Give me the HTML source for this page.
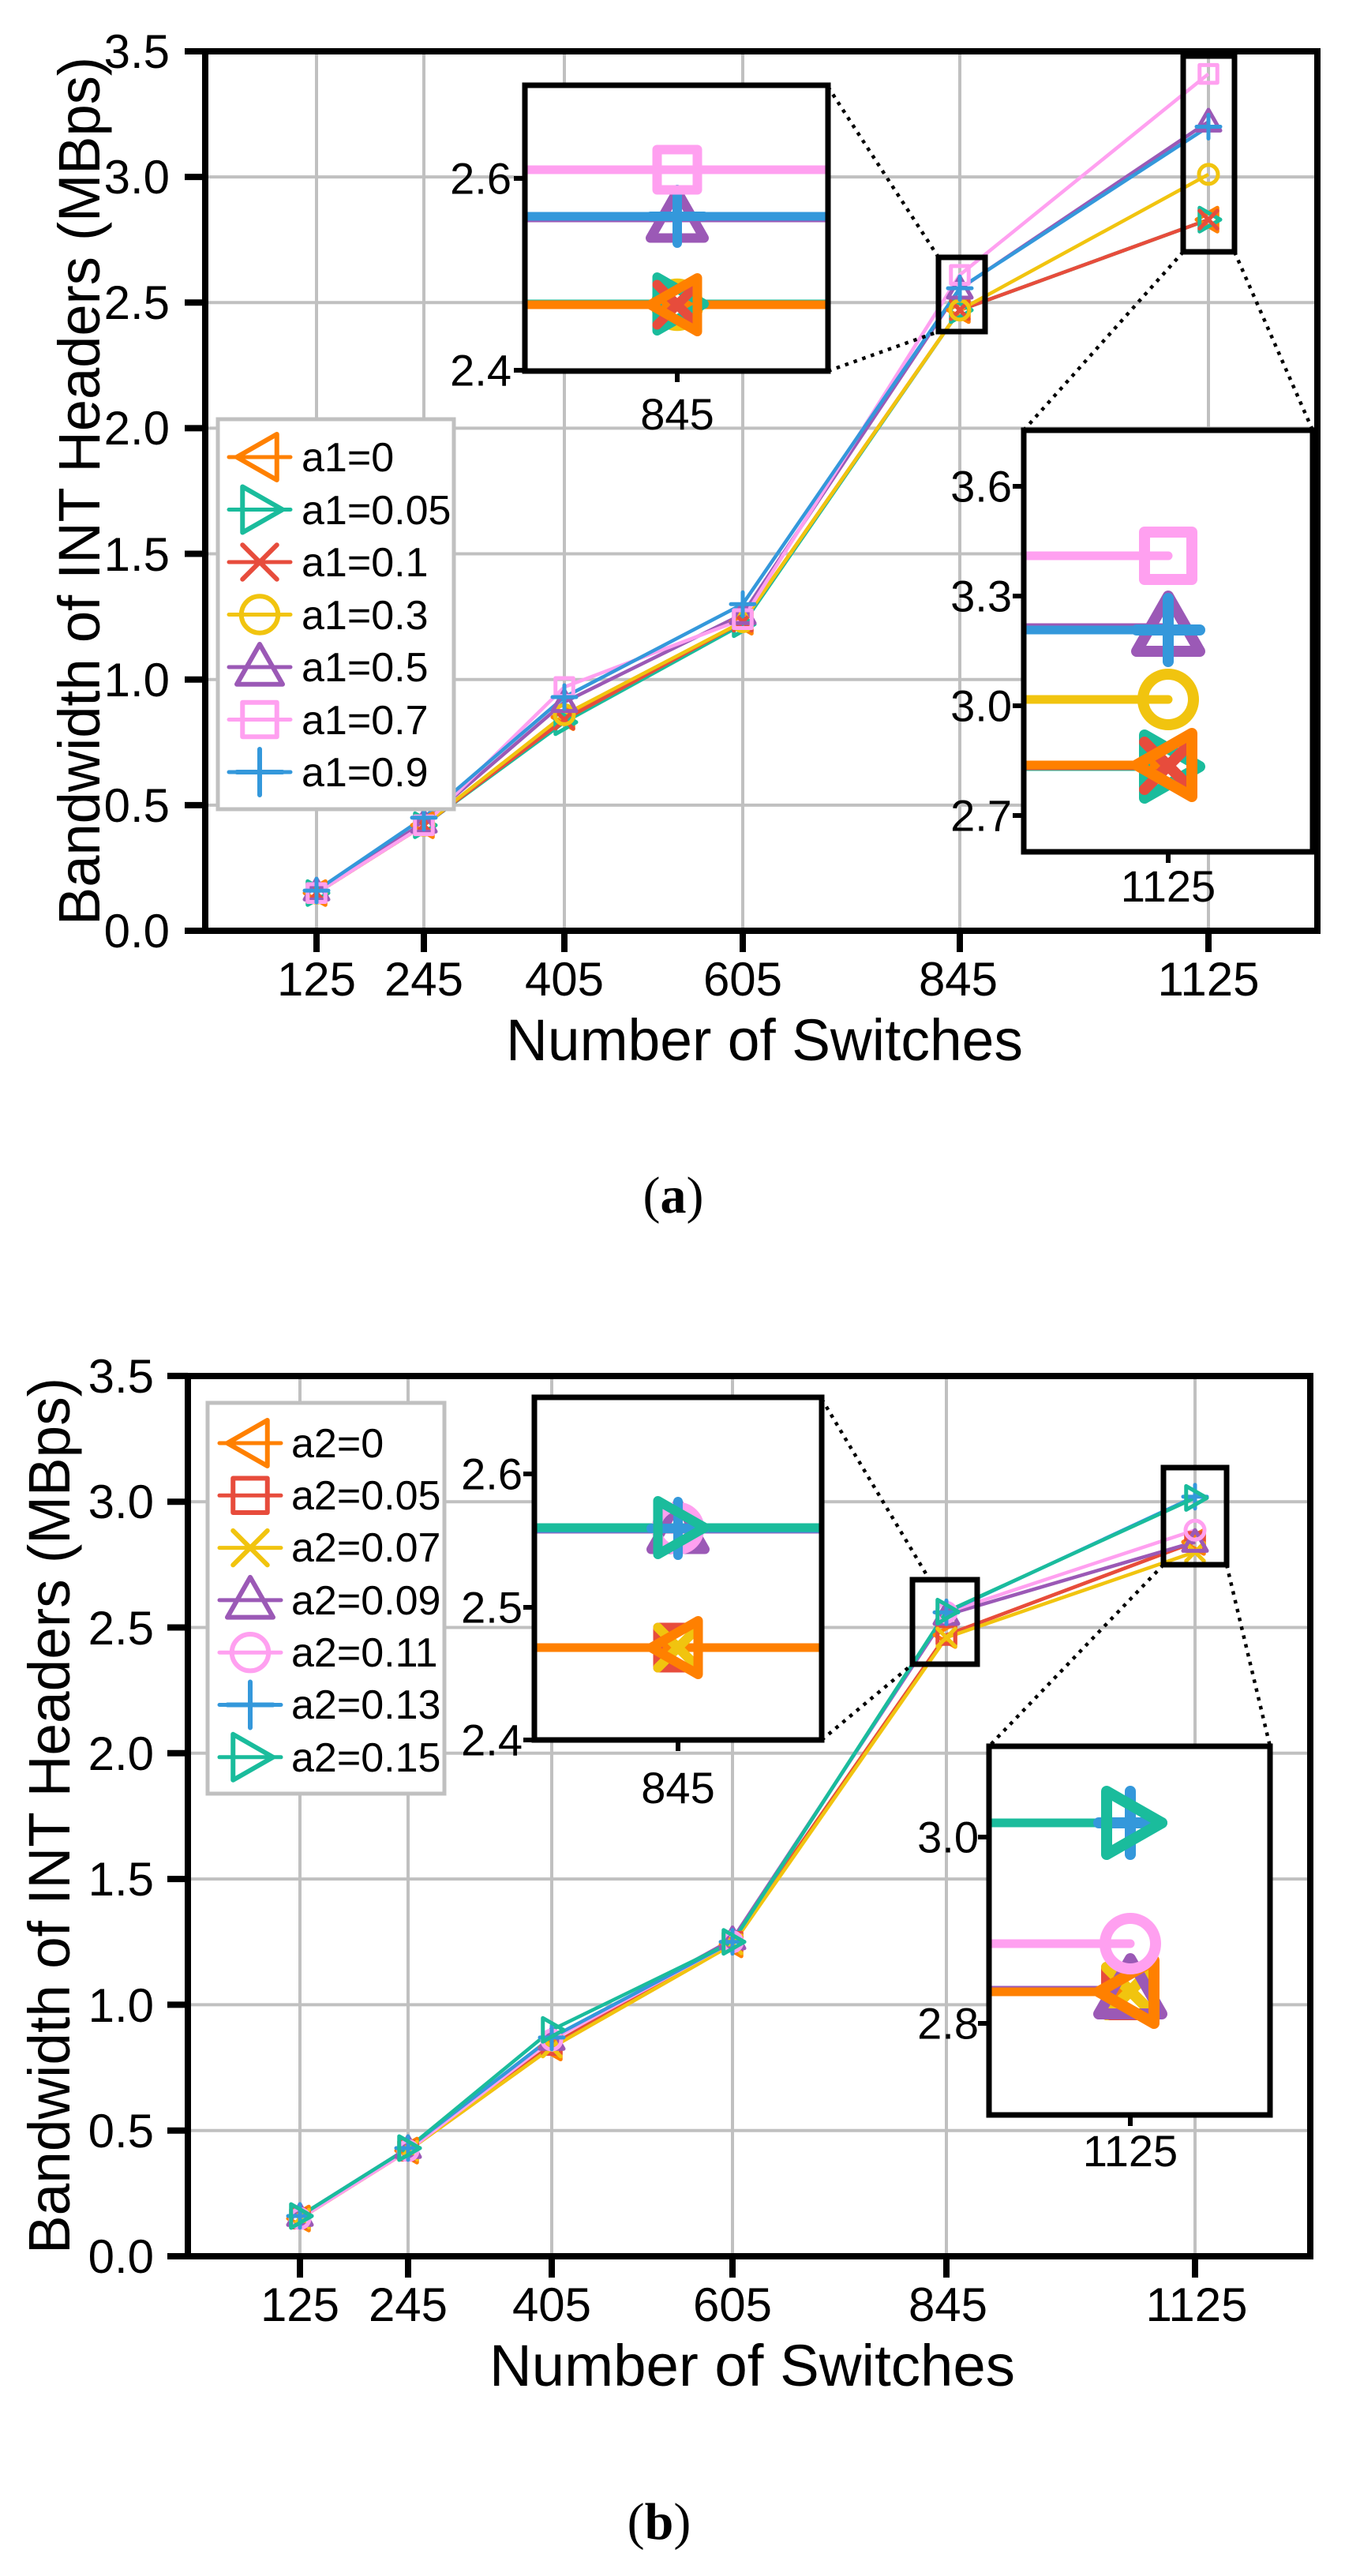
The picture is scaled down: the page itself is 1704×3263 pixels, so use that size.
<!DOCTYPE html>
<html><head><meta charset="utf-8"><style>
html,body{margin:0;padding:0;background:#fff;}
svg{display:block;}
text{font-family:"Liberation Sans",sans-serif;fill:#000;}
</style></head><body>
<svg id="s" xmlns="http://www.w3.org/2000/svg" width="1704" height="3263" viewBox="0 0 1704 3263">
<rect width="1704" height="3263" fill="#fff"/>
<g id="g"></g>
<!-- Panel a text -->
<g font-size="60" text-anchor="end">
<text x="215" y="1179" dy="0.35em">0.0</text>
<text x="215" y="1020" dy="0.35em">0.5</text>
<text x="215" y="861" dy="0.35em">1.0</text>
<text x="215" y="702" dy="0.35em">1.5</text>
<text x="215" y="542" dy="0.35em">2.0</text>
<text x="215" y="383" dy="0.35em">2.5</text>
<text x="215" y="224" dy="0.35em">3.0</text>
<text x="215" y="65" dy="0.35em">3.5</text>
</g>
<g font-size="60" text-anchor="middle">
<text x="401" y="1261">125</text>
<text x="537" y="1261">245</text>
<text x="715" y="1261">405</text>
<text x="941" y="1261">605</text>
<text x="1214" y="1261">845</text>
<text x="1531" y="1261">1125</text>
</g>
<text x="641" y="1343" font-size="74" textLength="655" lengthAdjust="spacingAndGlyphs">Number of Switches</text>
<text transform="translate(126,622) rotate(-90)" font-size="74" text-anchor="middle" textLength="1100" lengthAdjust="spacingAndGlyphs">Bandwidth of INT Headers (MBps)</text>
<text x="853" y="1536" font-size="66" text-anchor="middle" style="font-family:'Liberation Serif',serif"><tspan>(</tspan><tspan font-weight="bold">a</tspan><tspan>)</tspan></text>
<g font-size="52">
<text x="382" y="579" dy="0.35em">a1=0</text>
<text x="382" y="646" dy="0.35em">a1=0.05</text>
<text x="382" y="712" dy="0.35em">a1=0.1</text>
<text x="382" y="779" dy="0.35em">a1=0.3</text>
<text x="382" y="845" dy="0.35em">a1=0.5</text>
<text x="382" y="912" dy="0.35em">a1=0.7</text>
<text x="382" y="978" dy="0.35em">a1=0.9</text>
</g>
<g font-size="56" text-anchor="end">
<text x="648" y="226" dy="0.35em">2.6</text>
<text x="648" y="469" dy="0.35em">2.4</text>
<text x="1282" y="616" dy="0.35em">3.6</text>
<text x="1282" y="755" dy="0.35em">3.3</text>
<text x="1282" y="894" dy="0.35em">3.0</text>
<text x="1282" y="1033" dy="0.35em">2.7</text>
</g>
<g font-size="56" text-anchor="middle">
<text x="858" y="544">845</text>
<text x="1480" y="1142">1125</text>
</g>
<!-- Panel b text -->
<g font-size="60" text-anchor="end">
<text x="195" y="2858" dy="0.35em">0.0</text>
<text x="195" y="2699" dy="0.35em">0.5</text>
<text x="195" y="2540" dy="0.35em">1.0</text>
<text x="195" y="2380" dy="0.35em">1.5</text>
<text x="195" y="2221" dy="0.35em">2.0</text>
<text x="195" y="2062" dy="0.35em">2.5</text>
<text x="195" y="1902" dy="0.35em">3.0</text>
<text x="195" y="1743" dy="0.35em">3.5</text>
</g>
<g font-size="60" text-anchor="middle">
<text x="380" y="2940">125</text>
<text x="517" y="2940">245</text>
<text x="699" y="2940">405</text>
<text x="928" y="2940">605</text>
<text x="1201" y="2940">845</text>
<text x="1516" y="2940">1125</text>
</g>
<text x="620" y="3022" font-size="74" textLength="666" lengthAdjust="spacingAndGlyphs">Number of Switches</text>
<text transform="translate(88,2300) rotate(-90)" font-size="74" text-anchor="middle" textLength="1110" lengthAdjust="spacingAndGlyphs">Bandwidth of INT Headers (MBps)</text>
<text x="835" y="3216" font-size="66" text-anchor="middle" style="font-family:'Liberation Serif',serif"><tspan>(</tspan><tspan font-weight="bold">b</tspan><tspan>)</tspan></text>
<g font-size="52">
<text x="369" y="1828" dy="0.35em">a2=0</text>
<text x="369" y="1894" dy="0.35em">a2=0.05</text>
<text x="369" y="1960" dy="0.35em">a2=0.07</text>
<text x="369" y="2027" dy="0.35em">a2=0.09</text>
<text x="369" y="2093" dy="0.35em">a2=0.11</text>
<text x="369" y="2159" dy="0.35em">a2=0.13</text>
<text x="369" y="2226" dy="0.35em">a2=0.15</text>
</g>
<g font-size="56" text-anchor="end">
<text x="662" y="1867" dy="0.35em">2.6</text>
<text x="662" y="2036" dy="0.35em">2.5</text>
<text x="662" y="2204" dy="0.35em">2.4</text>
<text x="1240" y="2327" dy="0.35em">3.0</text>
<text x="1240" y="2563" dy="0.35em">2.8</text>
</g>
<g font-size="56" text-anchor="middle">
<text x="859" y="2284">845</text>
<text x="1432" y="2744">1125</text>
</g>
</svg>
<script>
(function(){
var g=document.getElementById('g');var o='';
var C={o:'#ff8000',t:'#1abc9c',r:'#e74c3c',y:'#f1c40f',p:'#9b59b6',k:'#ffa0f0',b:'#3498db'};
function L(x1,y1,x2,y2,c,w,extra){o+='<line x1="'+x1+'" y1="'+y1+'" x2="'+x2+'" y2="'+y2+'" stroke="'+c+'" stroke-width="'+w+'" '+(extra||'')+'/>';}
function M(t,x,y,s,c,w){var a='fill="none" stroke="'+c+'" stroke-width="'+w+'" stroke-linejoin="round" stroke-linecap="round"';
 if(t=='<')o+='<polygon points="'+(x-s)+','+y+' '+(x+s*0.75)+','+(y-s)+' '+(x+s*0.75)+','+(y+s)+'" '+a+'/>';
 else if(t=='>')o+='<polygon points="'+(x+s)+','+y+' '+(x-s*0.75)+','+(y-s)+' '+(x-s*0.75)+','+(y+s)+'" '+a+'/>';
 else if(t=='^')o+='<polygon points="'+x+','+(y-s)+' '+(x-s)+','+(y+s*0.75)+' '+(x+s)+','+(y+s*0.75)+'" '+a+'/>';
 else if(t=='s')o+='<rect x="'+(x-s*0.75)+'" y="'+(y-s*0.75)+'" width="'+(s*1.5)+'" height="'+(s*1.5)+'" '+a+'/>';
 else if(t=='o')o+='<circle cx="'+x+'" cy="'+y+'" r="'+(s*0.8)+'" '+a+'/>';
 else if(t=='x'){var d=s*0.75;o+='<path d="M'+(x-d)+','+(y-d)+'L'+(x+d)+','+(y+d)+'M'+(x-d)+','+(y+d)+'L'+(x+d)+','+(y-d)+'" '+a+'/>';}
 else if(t=='+')o+='<path d="M'+(x-s)+','+y+'L'+(x+s)+','+y+'M'+x+','+(y-s)+'L'+x+','+(y+s)+'" '+a+'/>';
}
function panel(P){
 var gc='#c0c0c0';
 P.xs.forEach(function(x){L(x,P.top,x,P.bot,gc,4);});
 for(var v=0.5;v<3.5;v+=0.5){var y=P.Y(v);L(P.left,y,P.right,y,gc,4);}
 P.S.forEach(function(s){var pts=s.v.map(function(v,i){return P.xs[i]+','+P.Y(v);}).join(' ');
  o+='<polyline points="'+pts+'" fill="none" stroke="'+C[s.c]+'" stroke-width="4.5" stroke-linejoin="round"/>';});
 P.S.forEach(function(s){s.v.forEach(function(v,i){M(s.m,P.xs[i],P.Y(v),15,C[s.c],5);});});
 o+='<rect x="'+P.left+'" y="'+P.top+'" width="'+(P.right-P.left)+'" height="'+(P.bot-P.top)+'" fill="none" stroke="#000" stroke-width="8"/>';
 for(var v=0;v<=3.5;v+=0.5){var y=P.Y(v);L(P.left-26,y,P.left,y,'#000',8);}
 P.xs.forEach(function(x){L(x,P.bot,x,P.bot+27,'#000',8);});
 var lg=P.lg;o+='<rect x="'+lg.x1+'" y="'+lg.y1+'" width="'+(lg.x2-lg.x1)+'" height="'+(lg.y2-lg.y1)+'" fill="#fff" stroke="'+gc+'" stroke-width="5"/>';
 P.S.forEach(function(s,i){var y=lg.y0+i*lg.dy;L(lg.mx-39,y,lg.mx+39,y,C[s.c],5,'stroke-linecap="round"');M(s.m,lg.mx,y,29,C[s.c],6);});
 P.ins.forEach(function(I){
  var b=I.sb;o+='<rect x="'+b[0]+'" y="'+b[1]+'" width="'+(b[2]-b[0])+'" height="'+(b[3]-b[1])+'" fill="none" stroke="#000" stroke-width="7"/>';
  I.con.forEach(function(c){L(c[0],c[1],c[2],c[3],'#000',4.5,'stroke-dasharray="4.5,7"');});
  var B=I.box,id='c'+Math.round(B[0])+Math.round(B[1]);
  o+='<rect x="'+B[0]+'" y="'+B[1]+'" width="'+(B[2]-B[0])+'" height="'+(B[3]-B[1])+'" fill="#fff"/>';
  o+='<clipPath id="'+id+'"><rect x="'+B[0]+'" y="'+B[1]+'" width="'+(B[2]-B[0])+'" height="'+(B[3]-B[1])+'"/></clipPath><g clip-path="url(#'+id+')">';
  I.lines.forEach(function(l){L(B[0],l[1],I.full?B[2]:I.mx,l[1],C[l[0]],11,I.full?'':'stroke-linecap="round"');});
  I.lines.forEach(function(l){M(l[2],I.mx,l[1],I.ms,C[l[0]],I.mw);});
  o+='</g>';
  o+='<rect x="'+B[0]+'" y="'+B[1]+'" width="'+(B[2]-B[0])+'" height="'+(B[3]-B[1])+'" fill="none" stroke="#000" stroke-width="7"/>';
  I.ticks.forEach(function(y){L(B[0]-14,y,B[0],y,'#000',6);});
  L(I.mx,B[3],I.mx,B[3]+14,'#000',6);
 });
}
var Ya=function(v){return 1179-v*318.3;};
var Sa=[{c:'o',m:'<',v:[0.15,0.42,0.85,1.23,2.47,2.83]},{c:'t',m:'>',v:[0.15,0.42,0.83,1.22,2.47,2.83]},{c:'r',m:'x',v:[0.15,0.42,0.84,1.23,2.47,2.83]},{c:'y',m:'o',v:[0.15,0.42,0.86,1.23,2.47,3.01]},{c:'p',m:'^',v:[0.16,0.43,0.91,1.26,2.555,3.22]},{c:'k',m:'s',v:[0.15,0.42,0.97,1.24,2.61,3.41]},{c:'b',m:'+',v:[0.16,0.45,0.93,1.30,2.557,3.2]}];
panel({left:260,right:1669,top:65,bot:1179,Y:Ya,xs:[401,537,715,941,1216,1531],S:Sa,
 lg:{x1:276,y1:531,x2:575,y2:1025,y0:579,dy:66.5,mx:329},
 ins:[{sb:[1189,326,1248,420],con:[[1049,110,1189,326],[1049,470,1189,420]],box:[665,108,1049,470],mx:858,ms:34,mw:12,full:true,ticks:[226,469],
   lines:[['y',386,'o'],['t',385,'>'],['r',386,'x'],['o',386,'<'],['p',276,'^'],['b',274,'+'],['k',215,'s']]},
  {sb:[1499,71,1564,319],con:[[1499,319,1297,545],[1564,319,1663,545]],box:[1297,545,1663,1079],mx:1480,ms:40,mw:14,full:false,ticks:[616,755,894,1033],
   lines:[['t',971,'>'],['r',970,'x'],['o',969,'<'],['y',886,'o'],['p',795,'^'],['b',798,'+'],['k',704,'s']]}]});
var Yb=function(v){return 2858-v*318.6;};
var Sb=[{c:'o',m:'<',v:[0.15,0.42,0.83,1.24,2.47,2.84]},{c:'r',m:'s',v:[0.15,0.42,0.84,1.25,2.47,2.84]},{c:'y',m:'x',v:[0.15,0.42,0.83,1.24,2.46,2.80]},{c:'p',m:'^',v:[0.16,0.43,0.86,1.26,2.55,2.84]},{c:'k',m:'o',v:[0.15,0.42,0.86,1.25,2.56,2.887]},{c:'b',m:'+',v:[0.16,0.43,0.87,1.25,2.56,3.02]},{c:'t',m:'>',v:[0.16,0.43,0.90,1.25,2.563,3.015]}];
panel({left:238,right:1660,top:1743,bot:2858,Y:Yb,xs:[380,517,699,928,1199,1514],S:Sb,
 lg:{x1:263,y1:1777,x2:563,y2:2272,y0:1828,dy:66.3,mx:317},
 ins:[{sb:[1156,2001,1238,2108],con:[[1041,1772,1180,2005],[1041,2204,1156,2108]],box:[677,1770,1041,2204],mx:859,ms:34,mw:12,full:true,ticks:[1867,2036,2204],
   lines:[['r',2087,'s'],['y',2087,'x'],['o',2087,'<'],['p',1937,'^'],['k',1936,'o'],['b',1936,'+'],['t',1935,'>']]},
  {sb:[1474,1859,1554,1982],con:[[1474,1982,1253,2212],[1554,1982,1609,2212]],box:[1253,2212,1609,2679],mx:1432,ms:40,mw:14,full:false,ticks:[2327,2563],
   lines:[['r',2522,'s'],['y',2522,'x'],['p',2521,'^'],['o',2523,'<'],['k',2462,'o'],['b',2309,'+'],['t',2309,'>']]}]});
g.innerHTML=o;
})();
</script>
</body></html>
